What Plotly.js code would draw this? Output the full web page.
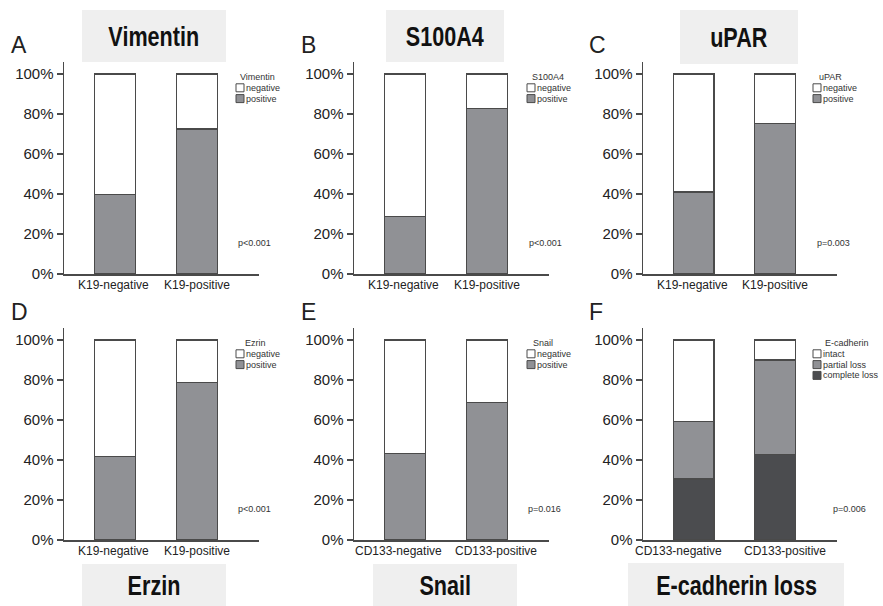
<!DOCTYPE html>
<html>
<head>
<meta charset="utf-8">
<script src="https://cdn.plot.ly/plotly-3.0.1.min.js"></script>
<style>html,body{margin:0;padding:0;background:#fff}#chart{width:883px;height:606px}</style>
</head>
<body>
<div id="chart"></div>
<script>
// ---- data ----
const groupsK19 = ['K19-negative', 'K19-positive'];
const groupsCD133 = ['CD133-negative', 'CD133-positive'];

const vimentinPositive = [39.6, 72.5];
const vimentinNegative = [60.4, 27.5];
const s100a4Positive = [28.8, 82.7];
const s100a4Negative = [71.2, 17.3];
const uparPositive = [41.0, 75.2];
const uparNegative = [59.0, 24.8];
const ezrinPositive = [41.8, 78.7];
const ezrinNegative = [58.2, 21.3];
const snailPositive = [43.3, 68.7];
const snailNegative = [56.7, 31.3];
const ecadCompleteLoss = [30.5, 42.7];
const ecadPartialLoss = [28.8, 47.3];
const ecadIntact = [40.7, 10.0];

const panelLetters = ['A', 'B', 'C', 'D', 'E', 'F'];
const panelTitles = ['Vimentin', 'S100A4', 'uPAR', 'Erzin', 'Snail', 'E-cadherin loss'];
const legendTitles = ['Vimentin', 'S100A4', 'uPAR', 'Ezrin', 'Snail', 'E-cadherin'];
const pValues = ['p<0.001', 'p<0.001', 'p=0.003', 'p<0.001', 'p=0.016', 'p=0.006'];
const yTickVals = [0, 20, 40, 60, 80, 100];
const yTickText = ['0%', '20%', '40%', '60%', '80%', '100%'];

// ---- styling ----
const W = 883, H = 606;
const px = x => x / W;
const py = y => 1 - y / H;
const C_WHITE = '#ffffff', C_GRAY = '#909195', C_DARK = '#4b4c4f', C_LINE = '#4a4a4a';
const FONT = 'Liberation Sans, Arial, Helvetica, sans-serif';

// panel geometry (pixels)
const colX = [[64, 259], [354, 549], [643, 837]];
const rowY = [[62, 274], [328, 540]];
const letterPos = [[9, 45], [299, 45], [587, 45], [9, 312], [299, 312], [587, 312]];
const titleBox = [[82, 226, 10, 62], [386, 504, 10, 62], [680, 798, 10, 64],
                  [82, 226, 564, 606], [373, 517, 564, 606], [628, 844, 563, 606]];
const legendBoxX = [236, 527, 813, 236, 527, 813];
const legendTitleX = [257, 548, 830, 255, 543, 847];
const legendTopY = [77, 77, 77, 343, 343, 343];
const pPos = [[236, 243], [527, 243], [815, 243], [236, 509], [526, 509], [831, 509]];
// horizontal offsets (px) of the category labels relative to their bars, as in the original
const labelShift = [[-1, 0], [-1, 0], [-1, 0], [-1, 0], [-6, 9.5], [-15.5, 9.5]];

// ---- traces ----
const panels = [
  {cats: groupsK19, series: [['positive', vimentinPositive, C_GRAY], ['negative', vimentinNegative, C_WHITE]]},
  {cats: groupsK19, series: [['positive', s100a4Positive, C_GRAY], ['negative', s100a4Negative, C_WHITE]]},
  {cats: groupsK19, series: [['positive', uparPositive, C_GRAY], ['negative', uparNegative, C_WHITE]]},
  {cats: groupsK19, series: [['positive', ezrinPositive, C_GRAY], ['negative', ezrinNegative, C_WHITE]]},
  {cats: groupsCD133, series: [['positive', snailPositive, C_GRAY], ['negative', snailNegative, C_WHITE]]},
  {cats: groupsCD133, series: [['complete loss', ecadCompleteLoss, C_DARK], ['partial loss', ecadPartialLoss, C_GRAY], ['intact', ecadIntact, C_WHITE]]}
];

const traces = [];
const titleAnnIdx = [];
const layout = {
  width: W, height: H,
  margin: {l: 0, r: 0, t: 0, b: 0},
  paper_bgcolor: '#fff', plot_bgcolor: 'rgba(0,0,0,0)',
  barmode: 'stack', showlegend: false,
  font: {family: FONT, color: '#222'},
  shapes: [], annotations: []
};

panels.forEach((p, i) => {
  const n = i + 1;
  const xa = n === 1 ? 'x' : 'x' + n, ya = n === 1 ? 'y' : 'y' + n;
  p.series.forEach(s => {
    traces.push({
      type: 'bar', x: p.cats, y: s[1], name: s[0], xaxis: xa, yaxis: ya,
      width: 0.5, marker: {color: s[2], line: {color: C_LINE, width: 1.2}},
      hoverinfo: 'x+y+name'
    });
  });
  const cx = colX[i % 3], ry = rowY[Math.floor(i / 3)];
  layout['xaxis' + (n === 1 ? '' : n)] = {
    domain: [px(cx[0]), px(cx[1])], anchor: ya, type: 'category',
    range: [-0.62, 1.76], showline: true, linecolor: C_LINE, linewidth: 1.5,
    showticklabels: false, ticks: '', showgrid: false, zeroline: false, fixedrange: true
  };
  layout['yaxis' + (n === 1 ? '' : n)] = {
    domain: [py(ry[1]), py(ry[0])], anchor: xa, range: [0, 106],
    tickvals: yTickVals, ticktext: yTickText,
    showline: true, linecolor: C_LINE, linewidth: 1.5,
    ticks: 'outside', ticklen: 6, tickwidth: 1.5, tickcolor: C_LINE,
    showgrid: false, zeroline: false, fixedrange: true,
    tickfont: {family: FONT, size: 15, color: '#222'}
  };

  // category labels, positioned on the x scale of the subplot
  p.cats.forEach((c, j) => {
    layout.annotations.push({xref: xa, yref: 'paper', x: c, y: py(ry[1] + 11),
      xshift: labelShift[i][j], text: c, showarrow: false, xanchor: 'center', yanchor: 'middle',
      font: {family: FONT, size: 12, color: '#222'}});
  });

  // title box
  const tb = titleBox[i];
  layout.shapes.push({type: 'rect', xref: 'paper', yref: 'paper',
    x0: px(tb[0]), x1: px(tb[1]), y0: py(tb[3]), y1: py(tb[2]),
    fillcolor: '#efefef', line: {width: 0}, layer: 'below'});
  titleAnnIdx.push(layout.annotations.length);
  layout.annotations.push({xref: 'paper', yref: 'paper', x: px((tb[0] + tb[1]) / 2), y: py((tb[2] + tb[3]) / 2 + 1),
    text: '<b>' + panelTitles[i] + '</b>', showarrow: false, xanchor: 'center', yanchor: 'middle',
    font: {family: FONT, size: 27, color: '#111'}});

  // panel letter
  layout.annotations.push({xref: 'paper', yref: 'paper', x: px(letterPos[i][0]), y: py(letterPos[i][1]),
    text: panelLetters[i], showarrow: false, xanchor: 'left', yanchor: 'middle',
    font: {family: FONT, size: 23, color: '#222'}});

  // legend title
  layout.annotations.push({xref: 'paper', yref: 'paper', x: px(legendTitleX[i]), y: py(legendTopY[i]),
    text: legendTitles[i], showarrow: false, xanchor: 'center', yanchor: 'middle',
    font: {family: FONT, size: 9, color: '#333'}});
  // legend entries (top to bottom: reverse of stacking order)
  const entries = p.series.slice().reverse();
  entries.forEach((s, k) => {
    const yc = legendTopY[i] + 10.8 * (k + 1);
    const bx = legendBoxX[i];
    layout.shapes.push({type: 'rect', xref: 'paper', yref: 'paper',
      x0: px(bx), x1: px(bx + 8), y0: py(yc + 4), y1: py(yc - 4),
      fillcolor: s[2], line: {color: C_LINE, width: 1}});
    layout.annotations.push({xref: 'paper', yref: 'paper', x: px(bx + 8), y: py(yc),
      text: s[0], showarrow: false, xanchor: 'left', yanchor: 'middle',
      font: {family: FONT, size: 9, color: '#333'}});
  });

  // p-value
  layout.annotations.push({xref: 'paper', yref: 'paper', x: px(pPos[i][0]), y: py(pPos[i][1]),
    text: pValues[i], showarrow: false, xanchor: 'left', yanchor: 'middle',
    font: {family: FONT, size: 9, color: '#333'}});
});

Plotly.newPlot('chart', traces, layout, {staticPlot: true, displayModeBar: false}).then(gd => {
  // condense the panel title text horizontally (narrow bold look)
  const k = 0.8;
  gd.querySelectorAll('.annotation').forEach(a => {
    const idx = +a.getAttribute('data-index');
    if (titleAnnIdx.indexOf(idx) < 0) return;
    const t = a.querySelector('.annotation-text');
    if (!t) return;
    const b = t.getBBox();
    const c = b.x + b.width / 2;
    const prev = t.getAttribute('transform') || '';
    t.setAttribute('transform', prev + ' matrix(' + k + ',0,0,1,' + (c * (1 - k)) + ',0)');
  });
});
</script>
</body>
</html>
